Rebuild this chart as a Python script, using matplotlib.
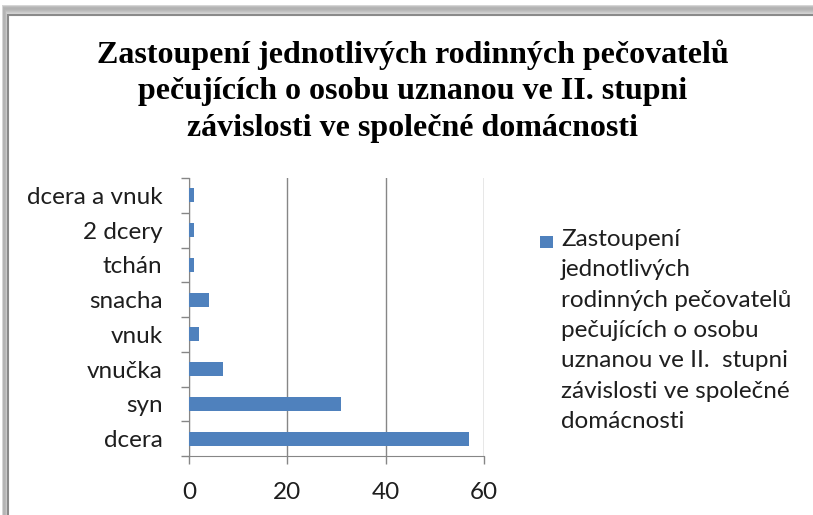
import matplotlib
matplotlib.use("Agg")
import matplotlib.pyplot as plt
from matplotlib.patches import Rectangle

categories = ["dcera", "syn", "vnučka", "vnuk", "snacha", "tchán", "2 dcery", "dcera a vnuk"]
values = [57, 31, 7, 2, 4, 1, 1, 1]
xticks = [0, 20, 40, 60]
title = "Zastoupení jednotlivých rodinných pečovatelů\npečujících o osobu uznanou ve II. stupni\nzávislosti ve společné domácnosti"
legend_lines = ["Zastoupení", "jednotlivých", "rodinných pečovatelů", "pečujících o osobu",
                "uznanou ve II.  stupni", "závislosti ve společné", "domácnosti"]

W, H = 813, 515
BAR = "#4f81bd"
TXT = "#1e1e1e"
FONT = "Lato"
FS = 17.5

fig = plt.figure(figsize=(W / 100, H / 100), dpi=100)
fig.patch.set_facecolor("white")

# chart frame with soft shadow on top and left
for k in range(10):
    g = 0.55 + 0.045 * k
    off = 10 - k
    fig.patches.append(Rectangle(((8 - off * 0.6) / W, -0.2), 1.5, (H - 15 + off) / H + 0.2,
                                 transform=fig.transFigure, facecolor=(g, g, g),
                                 edgecolor="none", zorder=0, alpha=0.35))
fig.patches.append(Rectangle((8 / W, -0.2), 1.5, (H - 15) / H + 0.2,
                             transform=fig.transFigure, facecolor="white",
                             edgecolor="#8a8a8a", lw=1.5, zorder=1))

ax = fig.add_axes([189 / W, 1 - 456 / H, (484 - 189) / W, (456 - 178) / H])
ax.set_zorder(2)
ax.patch.set_alpha(0)
y = list(range(len(categories)))
ax.barh(y, values, height=0.4, color=BAR, zorder=3)
ax.set_xlim(0, 60)
ax.set_ylim(-0.5, len(categories) - 0.5)
ax.set_xticks(xticks)
ax.set_xticklabels([str(t) for t in xticks])
ax.set_yticks(y)
ax.set_yticklabels(categories)
ax.set_yticks([i - 0.5 for i in range(len(categories) + 1)], minor=True)
ax.tick_params(axis="y", which="major", length=0, pad=19)
ax.tick_params(axis="y", which="minor", length=6, width=1, color="#868686", direction="out")
ax.tick_params(axis="x", length=6, width=1, color="#868686", direction="out", pad=13)
for lab in ax.get_yticklabels() + ax.get_xticklabels():
    lab.set_fontfamily(FONT)
    lab.set_fontsize(FS)
    lab.set_color(TXT)
ax.grid(axis="x", color="#868686", lw=1, zorder=0)
for s in ["top", "right"]:
    ax.spines[s].set_visible(False)
ax.spines["left"].set_color("#868686")
ax.spines["bottom"].set_color("#868686")

fig.text(0.5 * (95 + 730) / W, 1 - 39 / H, title, ha="center", va="top",
         family="Liberation Serif", fontweight="bold", fontsize=23,
         linespacing=1.34, color="black")

# legend: square at top-left, multi-line label
lx, ly = 540, 236
fig.patches.append(Rectangle((lx / W, 1 - (ly + 12) / H), 13 / W, 12 / H,
                             transform=fig.transFigure, facecolor=BAR,
                             edgecolor="none", zorder=3))
fig.text(561 / W, 1 - 229 / H, "\n".join(legend_lines), ha="left", va="top",
         family=FONT, fontsize=FS, linespacing=1.55, color=TXT)

fig.savefig("out.png", dpi=100)
